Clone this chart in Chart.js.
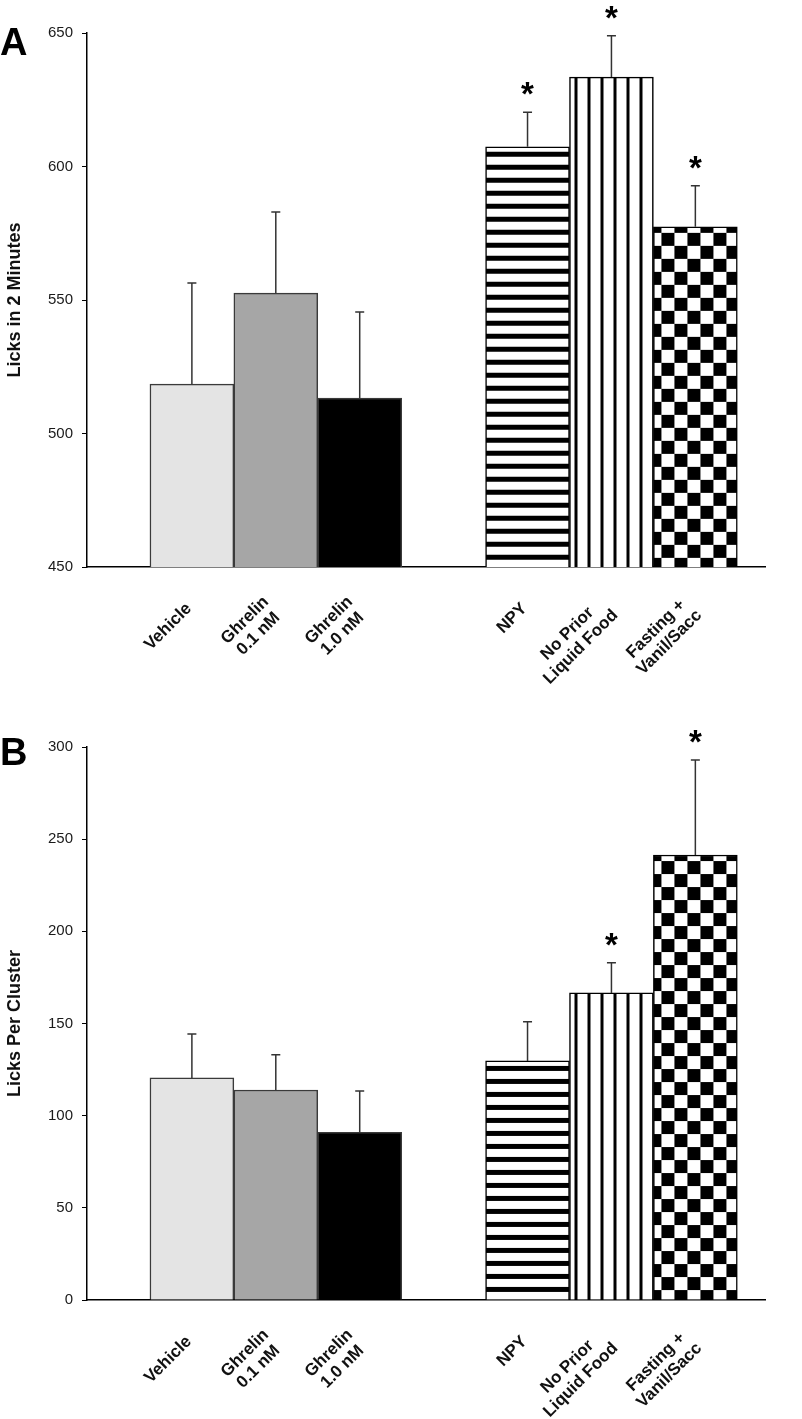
<!DOCTYPE html>
<html><head><meta charset="utf-8">
<script src="https://cdn.jsdelivr.net/npm/chart.js@4.4.1/dist/chart.umd.min.js"></script>
<style>
html,body{margin:0;padding:0;background:#fff;}
#wrap{width:802px;height:1419px;position:relative;overflow:hidden;}
canvas{position:absolute;left:0;display:block;}
#ca{top:0;}
#cb{top:700px;}
</style></head><body>
<div id="wrap">
<canvas id="ca" width="802" height="700"></canvas>
<canvas id="cb" width="802" height="719"></canvas>
</div>
<script>
// ---------- data ----------
const categories = [['Vehicle'], ['Ghrelin', '0.1 nM'], ['Ghrelin', '1.0 nM'], ['NPY'], ['No Prior', 'Liquid Food'], ['Fasting +', 'Vanil/Sacc']];
const slotIndex = [1, 2, 3, 5, 6, 7];           // category positions (gap between the two groups)
const licksTotal = [518.5, 552.6, 513.3, 607.4, 633.5, 577.4];
const licksTotalSem = [37.9, 30.4, 32.2, 12.9, 15.5, 15.4];
const licksTotalSig = [false, false, false, true, true, true];
const licksPerCluster = [120.5, 113.9, 91.0, 129.7, 166.6, 241.4];
const licksPerClusterSem = [23.8, 19.2, 22.4, 21.3, 16.4, 51.6];
const licksPerClusterSig = [false, false, false, false, true, true];
const ticksTotal = [450, 500, 550, 600, 650];
const ticksCluster = [0, 50, 100, 150, 200, 250, 300];

// ---------- styles ----------
const FONT = '"Liberation Sans", Arial, Helvetica, sans-serif';
const solidFills = ['#e4e4e4', '#a6a6a6', '#000000'];
const borderCols = ['#3a3a3a', '#3a3a3a', '#3a3a3a', '#000', '#000', '#000'];

function makePattern(kind) {
  const c = document.createElement('canvas');
  const g = c.getContext('2d');
  if (kind === 'h') {
    c.width = 8; c.height = 13;
    g.fillStyle = '#fff'; g.fillRect(0, 0, 8, 13);
    g.fillStyle = '#000'; g.fillRect(0, 5, 8, 5);
  } else if (kind === 'v') {
    c.width = 13; c.height = 8;
    g.fillStyle = '#fff'; g.fillRect(0, 0, 13, 8);
    g.fillStyle = '#000'; g.fillRect(5, 0, 3, 8);
  } else {
    c.width = 26; c.height = 26;
    g.fillStyle = '#fff'; g.fillRect(0, 0, 26, 26);
    g.fillStyle = '#000'; g.fillRect(0, 0, 13, 13); g.fillRect(13, 13, 13, 13);
  }
  return g.createPattern(c, 'repeat');
}
function fillsFor() {
  return solidFills.concat([makePattern('h'), makePattern('v'), makePattern('c')]);
}
const patternOffsets = [null, null, null, [0, 0], [0, 0], [8, 6]];

const patternAlign = {
  id: 'patternAlign',
  beforeDatasetsDraw(chart) {
    const meta = chart.getDatasetMeta(0);
    meta.data.forEach((el, i) => {
      const bg = el.options.backgroundColor;
      const off = patternOffsets[i];
      if (off && bg && bg.setTransform) {
        const p = el.getProps(['x', 'y', 'width'], true);
        bg.setTransform(new DOMMatrix().translateSelf(p.x - p.width / 2 + off[0], p.y + off[1]));
      }
    });
  }
};

const errorBars = {
  id: 'errorBars',
  afterDatasetsDraw(chart, args, opts) {
    const ctx = chart.ctx, ys = chart.scales.y;
    const meta = chart.getDatasetMeta(0);
    const vals = chart.data.datasets[0].data;
    ctx.save();
    meta.data.forEach((el, i) => {
      const p = el.getProps(['x', 'y'], true);
      const top = ys.getPixelForValue(vals[i].y + opts.sem[i]);
      ctx.strokeStyle = '#333'; ctx.lineWidth = 1.5;
      ctx.beginPath();
      ctx.moveTo(p.x, p.y); ctx.lineTo(p.x, top);
      ctx.moveTo(p.x - 4.5, top); ctx.lineTo(p.x + 4.5, top);
      ctx.stroke();
      if (opts.sig[i]) {
        ctx.fillStyle = '#000';
        ctx.font = 'bold 33px ' + FONT;
        ctx.textAlign = 'center'; ctx.textBaseline = 'alphabetic';
        ctx.fillText('*', p.x, top - 7);
      }
    });
    ctx.restore();
  }
};

const xLabels = {
  id: 'xLabels',
  afterDraw(chart, args, opts) {
    const ctx = chart.ctx, xs = chart.scales.x, base = chart.chartArea.bottom;
    ctx.save();
    ctx.font = 'bold 17px ' + FONT;
    ctx.fillStyle = '#111';
    ctx.textAlign = 'center'; ctx.textBaseline = 'middle';
    const lh = 19;
    categories.forEach((lines, i) => {
      const px = xs.getPixelForValue(slotIndex[i]);
      const w = Math.max(...lines.map(l => ctx.measureText(l).width));
      ctx.save();
      ctx.translate(px - 3, base + 39);
      ctx.rotate(-Math.PI / 4);
      lines.forEach((l, k) => ctx.fillText(l, -w / 2, (k - (lines.length - 1) / 2) * lh));
      ctx.restore();
    });
    ctx.restore();
  }
};

const panelLetter = {
  id: 'panelLetter',
  afterDraw(chart, args, opts) {
    const ctx = chart.ctx;
    ctx.save();
    ctx.font = 'bold 38px ' + FONT;
    ctx.fillStyle = '#000';
    ctx.textAlign = 'left'; ctx.textBaseline = 'alphabetic';
    ctx.fillText(opts.text, opts.x, opts.y);
    ctx.restore();
  }
};

function build(id, values, sem, sig, yTicks, yTitle, padTop, canvasH, letter, letterY) {
  const xMin = slotIndex[0] - 1.25, xMax = slotIndex[slotIndex.length - 1] + 0.83;
  return new Chart(document.getElementById(id), {
    type: 'bar',
    data: {
      datasets: [{
        data: slotIndex.map((s, i) => ({ x: s, y: values[i] })),
        backgroundColor: fillsFor(),
        borderColor: borderCols,
        borderWidth: 1.5,
        borderSkipped: 'start',
        barPercentage: 1,
        categoryPercentage: 1
      }]
    },
    options: {
      responsive: false,
      devicePixelRatio: 1,
      animation: false,
      events: [],
      layout: { padding: { top: padTop, right: 37, left: 0, bottom: 0 } },
      plugins: {
        legend: { display: false },
        tooltip: { enabled: false },
        errorBars: { sem: sem, sig: sig },
        panelLetter: { text: letter, x: 0, y: letterY }
      },
      scales: {
        x: {
          type: 'linear',
          offset: false,
          min: xMin, max: xMax,
          afterBuildTicks: s => { s.ticks = slotIndex.map(v => ({ value: v })); },
          afterFit: s => { s.height = canvasH - (canvasH === 700 ? 567 : 600); },
          grid: { display: false, drawTicks: false, offset: false },
          border: { display: true, color: '#000', width: 1.5 },
          ticks: { display: false }
        },
        y: {
          min: yTicks[0], max: yTicks[yTicks.length - 1],
          afterBuildTicks: s => { s.ticks = yTicks.map(v => ({ value: v })); },
          afterFit: s => { s.width = 87; },
          grid: { display: true, drawOnChartArea: false, drawTicks: true, tickLength: 5, color: '#000', lineWidth: 1 },
          border: { display: true, color: '#000', width: 1.5 },
          ticks: { color: '#1a1a1a', padding: 9, font: { family: FONT, size: 15 } },
          title: { display: true, text: yTitle, color: '#111', padding: { top: 4, bottom: 0 }, font: { family: FONT, size: 18, weight: 'bold' } }
        }
      }
    },
    plugins: [patternAlign, errorBars, xLabels, panelLetter]
  });
}

build('ca', licksTotal, licksTotalSem, licksTotalSig, ticksTotal, 'Licks in 2 Minutes', 33, 700, 'A', 55);
build('cb', licksPerCluster, licksPerClusterSem, licksPerClusterSig, ticksCluster, 'Licks Per Cluster', 47, 719, 'B', 65);
</script>
</body></html>
